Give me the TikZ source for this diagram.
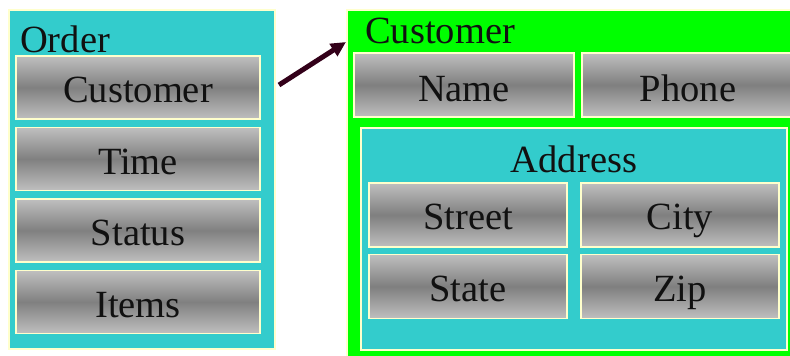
\documentclass[tikz,border=0pt]{standalone}
\usepackage{fontspec}
\setmainfont{Liberation Serif}
\usetikzlibrary{arrows.meta}
\definecolor{teal}{HTML}{33CCCC}
\definecolor{lime}{HTML}{00FF00}
\definecolor{edge}{HTML}{FFFFCC}
\definecolor{arrowc}{HTML}{330019}
\definecolor{ink}{HTML}{111111}
\begin{document}
\begin{tikzpicture}[x=1pt,y=-1pt,
  panel/.style={draw=edge,line width=1.2pt,fill=#1},
  field/.style={draw=edge,line width=1.5pt,top color=black!25,bottom color=black!25,middle color=black!50,shading angle=0},
  lbl/.style={text=ink,font=\fontsize{38.5}{38.5}\selectfont,inner sep=0pt,anchor=base}]
\useasboundingbox (0,0) rectangle (790,356);

% Order record
\filldraw[panel=teal] (9,10) rectangle (275,349);
\node[lbl,anchor=base west] (order) at (20,52) {Order};
\foreach \t/\y [count=\i] in {Customer/56,Time/127.5,Status/199,Items/270.5}{
  \shade[field] (16,\y) rectangle (260,\y+63);
  \node[lbl] (o\i) at (138,\y+46.5) {\t};
}
\coordinate (from) at (279,85);

% Customer record
\filldraw[panel=lime] (347,10) rectangle (792,358);
\node[lbl,anchor=base west] (cust) at (365,43) {Customer};
\coordinate (to) at (346,42);
\shade[field] (354,53) rectangle (574,117);
\node[lbl] (name) at (464,101) {Name};
\shade[field] (582,53) rectangle (793,117);
\node[lbl] (phone) at (688,101) {Phone};

% Address sub-record
\filldraw[panel=teal] (361,128) rectangle (787,350);
\node[lbl] (addr) at (574,172) {Address};
\foreach \t/\x/\y [count=\i] in {Street/369/183,City/581/183,State/369/254.5,Zip/581/254.5}{
  \shade[field] (\x,\y) rectangle (\x+198,\y+64);
  \node[lbl] (a\i) at (\x+99,\y+46.5) {\t};
}

% Reference arrow
\draw[arrowc,line width=5pt,-{Triangle[length=15pt,width=14pt]}] (from) -- (to);
\end{tikzpicture}
\end{document}
